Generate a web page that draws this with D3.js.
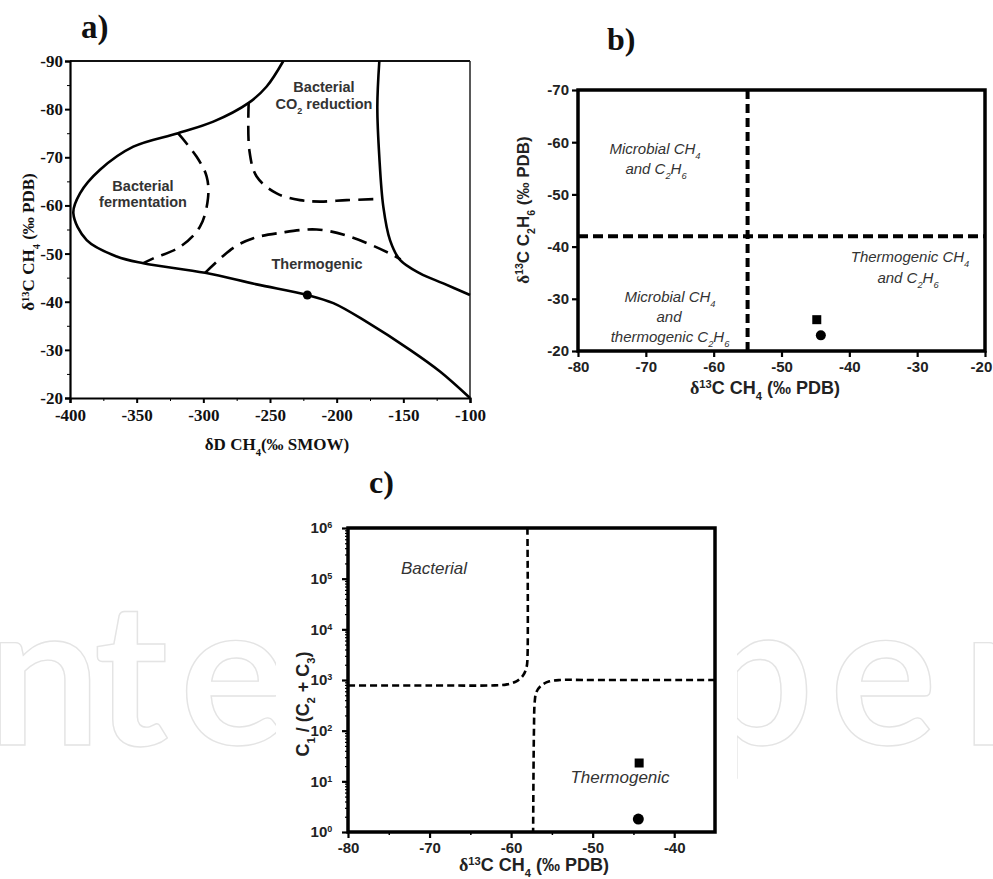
<!DOCTYPE html>
<html>
<head>
<meta charset="utf-8">
<script src="https://cdn.jsdelivr.net/npm/d3@7"></script>
<style>
  body { margin: 0; background: #fff; }
  svg { display: block; }
  .axis .domain { stroke: #000; }
  .axis line { stroke: #000; }
</style>
</head>
<body>
<div id="chart"></div>
<script>
// ---- panel a : dD vs d13C of methane --------------------------------
const aOuter = [[-240, -90], [-252.5, -84.7], [-266, -81.3], [-292.5, -77.4], [-319, -75],
  [-352.5, -72.2], [-377.5, -67.4], [-392.5, -62.5], [-397.5, -58.4], [-387.5, -52.8],
  [-365, -49.4], [-345, -48], [-298.7, -46], [-260, -43.6], [-222, -41.4], [-202.5, -39.7],
  [-177.5, -35.8], [-145, -30], [-122.5, -25.5], [-100, -20]];
const aRight = [[-168, -90], [-169.5, -80.5], [-168, -70], [-165, -59.7], [-160, -52.8],
  [-152.5, -48.7], [-137.5, -45.9], [-120, -43.8], [-100, -41.4]];
const aFerment = [[-319, -75], [-305, -70.1], [-297.5, -66], [-296.5, -61.5], [-302.5, -55.6],
  [-317.5, -51.4], [-337.5, -49], [-345, -48]];
const aCO2 = [[-266, -81.3], [-265.5, -71.5], [-260, -66], [-245, -62.5], [-227.5, -61.1],
  [-212.5, -60.8], [-192.5, -61.1], [-172.5, -61.3]];
const aThermo = [[-298.7, -46], [-277.5, -51.2], [-262.5, -53.2], [-242.5, -54.3], [-215, -55],
  [-190, -53.5], [-160, -50], [-152, -48.8]];
const aSample = [[-222, -41.4]];
const aXTicks = [-400, -350, -300, -250, -200, -150, -100];
const aYTicks = [-90, -80, -70, -60, -50, -40, -30, -20];

// ---- panel b : d13C CH4 vs d13C C2H6 --------------------------------
const bXTicks = [-80, -70, -60, -50, -40, -30, -20];
const bYTicks = [-70, -60, -50, -40, -30, -20];
const bCH4Limit = -55;
const bC2H6Limit = -42;
const bSquare = [[-44.8, -26]];
const bCircle = [[-44.2, -23]];

// ---- panel c : Bernard diagram --------------------------------------
const cXTicks = [-80, -70, -60, -50, -40];
const cYTicks = [1, 10, 100, 1e3, 1e4, 1e5, 1e6];
const cBacterial = [[-58, 1e6], [-58, 2500], [-58.1, 1800], [-58.5, 1250], [-59.3, 950],
  [-60.5, 820], [-62, 785], [-70, 780], [-80, 780]];
const cThermo = [[-35, 1000], [-50, 1000], [-54, 1000], [-55.3, 940], [-56.3, 780],
  [-56.9, 580], [-57.1, 380], [-57.2, 100], [-57.3, 1]];
const cSquare = [[-44.3, 23]];
const cCircle = [[-44.4, 1.8]];

const SERIF = '"Liberation Serif", "Times New Roman", serif';
const SANS = '"Liberation Sans", Arial, sans-serif';

const svg = d3.select('#chart').append('svg')
  .attr('width', 993)
  .attr('height', 879);

svg.append('rect').attr('width', 993).attr('height', 879).attr('fill', '#fff');

// text with sub / superscripts
function rich(t, parts) {
  parts.forEach(([s, k]) => {
    const sp = t.append('tspan').text(s);
    if (k === 'sup') sp.attr('baseline-shift', 'super').attr('font-size', '62%');
    if (k === 'sub') sp.attr('baseline-shift', 'sub').attr('font-size', '62%');
    if (k === 'serif') sp.attr('font-family', SERIF);
  });
  return t;
}

function midpoints(ticks) {
  return ticks.slice(1).map((v, i) => (v + ticks[i]) / 2);
}

// watermark behind everything
const wm = svg.append('g')
  .attr('fill', 'none')
  .attr('stroke', '#e4e4e4')
  .attr('stroke-width', 1.4)
  .attr('font-family', 'Lato, sans-serif')
  .attr('font-weight', 'bold')
  .attr('font-size', 200);
[['n', -12], ['t', 94], ['e', 180], ['p', 700], ['e', 830], ['n', 962]].forEach(([ch, x]) => {
  wm.append('text').attr('x', x).attr('y', 745).text(ch);
});

// ================= panel a =================
{
  const g = svg.append('g');
  const x = d3.scaleLinear().domain([-400, -100]).range([70, 470]);
  const y = d3.scaleLinear().domain([-90, -20]).range([61, 398]);

  const line = d3.line()
    .x(d => x(d[0]))
    .y(d => y(d[1]))
    .curve(d3.curveCatmullRom.alpha(0.5));

  // frame
  g.append('line').attr('x1', x(-400)).attr('x2', x(-100)).attr('y1', y(-90)).attr('y2', y(-90))
    .attr('stroke', '#111').attr('stroke-width', 2);
  g.append('line').attr('x1', x(-100)).attr('x2', x(-100)).attr('y1', y(-90)).attr('y2', y(-20))
    .attr('stroke', '#222').attr('stroke-width', 1.5);

  const xAxis = g.append('g').attr('class', 'axis').attr('transform', `translate(0,${y(-20)})`)
    .call(d3.axisBottom(x).tickValues(aXTicks).tickSize(5).tickPadding(3).tickFormat(d => String(d)));
  g.append('g').attr('class', 'axis').attr('transform', `translate(0,${y(-20)})`)
    .call(d3.axisBottom(x).tickValues(midpoints(aXTicks)).tickSize(3).tickFormat(''))
    .select('.domain').remove();
  const yAxis = g.append('g').attr('class', 'axis').attr('transform', `translate(${x(-400)},0)`)
    .call(d3.axisLeft(y).tickValues(aYTicks).tickSize(5).tickPadding(2).tickFormat(d => String(d)));
  g.append('g').attr('class', 'axis').attr('transform', `translate(${x(-400)},0)`)
    .call(d3.axisLeft(y).tickValues(midpoints(aYTicks)).tickSize(3).tickFormat(''))
    .select('.domain').remove();

  [xAxis, yAxis].forEach(a => {
    a.select('.domain').attr('stroke-width', 2.2);
    a.selectAll('line').attr('stroke-width', 2);
    a.selectAll('text').attr('font-family', SERIF).attr('font-weight', 'bold')
      .attr('font-size', 17).attr('fill', '#111');
  });
  xAxis.selectAll('text').attr('dy', '0.9em');

  // region boundaries
  [aOuter, aRight].forEach(c => {
    g.append('path').attr('d', line(c)).attr('fill', 'none')
      .attr('stroke', '#000').attr('stroke-width', 2.6);
  });
  [aFerment, aCO2, aThermo].forEach(c => {
    g.append('path').attr('d', line(c)).attr('fill', 'none')
      .attr('stroke', '#000').attr('stroke-width', 2.6)
      .attr('stroke-dasharray', '15,8');
  });

  g.selectAll('circle.sample').data(aSample).join('circle')
    .attr('class', 'sample')
    .attr('cx', d => x(d[0])).attr('cy', d => y(d[1])).attr('r', 4.5).attr('fill', '#000');

  const lab = g.append('g').attr('font-family', SANS).attr('font-weight', 'bold')
    .attr('font-size', 14.5).attr('fill', '#333').attr('text-anchor', 'middle');
  lab.append('text').attr('x', 324).attr('y', 92).text('Bacterial');
  rich(lab.append('text').attr('x', 324).attr('y', 109), [['CO', ''], ['2', 'sub'], [' reduction', '']]);
  lab.append('text').attr('x', 143).attr('y', 191).text('Bacterial');
  lab.append('text').attr('x', 143).attr('y', 207).text('fermentation');
  lab.append('text').attr('x', 317).attr('y', 269).text('Thermogenic');

  const tt = g.append('g').attr('font-family', SERIF).attr('font-weight', 'bold')
    .attr('font-size', 17).attr('fill', '#111').attr('text-anchor', 'middle');
  rich(tt.append('text').attr('x', 277).attr('y', 450),
    [['δD CH', ''], ['4', 'sub'], ['(‰ SMOW)', '']]);
  rich(tt.append('text').attr('transform', 'translate(34,242) rotate(-90)'),
    [['δ', ''], ['13', 'sup'], ['C CH', ''], ['4', 'sub'], [' (‰ PDB)', '']]);

  svg.append('text').attr('x', 81).attr('y', 38).attr('font-family', SERIF)
    .attr('font-weight', 'bold').attr('font-size', 33).attr('fill', '#111').text('a)');
}

// ================= panel b =================
{
  const g = svg.append('g');
  const x = d3.scaleLinear().domain([-80, -20]).range([578, 985]);
  const y = d3.scaleLinear().domain([-70, -20]).range([90, 351]);

  const xAxis = g.append('g').attr('class', 'axis').attr('transform', `translate(0,${y(-20)})`)
    .call(d3.axisBottom(x).tickValues(bXTicks).tickSize(6).tickPadding(4).tickFormat(d => String(d)));
  const yAxis = g.append('g').attr('class', 'axis').attr('transform', `translate(${x(-80)},0)`)
    .call(d3.axisLeft(y).tickValues(bYTicks).tickSize(6).tickPadding(3).tickFormat(d => String(d)));
  [xAxis, yAxis].forEach(a => {
    a.select('.domain').remove();
    a.selectAll('line').attr('stroke-width', 2.2);
    a.selectAll('text').attr('font-family', SANS).attr('font-weight', 'bold')
      .attr('font-size', 15).attr('fill', '#222');
  });
  // last label sits against the page edge, as in the original
  xAxis.selectAll('.tick text').filter(d => d === -20).attr('text-anchor', 'end').attr('dx', '0.45em');

  g.append('rect').attr('x', x(-80)).attr('y', y(-70))
    .attr('width', x(-20) - x(-80)).attr('height', y(-20) - y(-70))
    .attr('fill', 'none').attr('stroke', '#000').attr('stroke-width', 3.5);

  g.append('line').attr('x1', x(bCH4Limit)).attr('x2', x(bCH4Limit))
    .attr('y1', y(-70)).attr('y2', y(-20))
    .attr('stroke', '#000').attr('stroke-width', 4).attr('stroke-dasharray', '9,5');
  g.append('line').attr('x1', x(-80)).attr('x2', x(-20))
    .attr('y1', y(bC2H6Limit)).attr('y2', y(bC2H6Limit))
    .attr('stroke', '#000').attr('stroke-width', 4).attr('stroke-dasharray', '10,5');

  g.selectAll('rect.sq').data(bSquare).join('rect').attr('class', 'sq')
    .attr('x', d => x(d[0]) - 4.5).attr('y', d => y(d[1]) - 4.5)
    .attr('width', 9).attr('height', 9).attr('fill', '#000');
  g.selectAll('circle.ci').data(bCircle).join('circle').attr('class', 'ci')
    .attr('cx', d => x(d[0])).attr('cy', d => y(d[1])).attr('r', 5).attr('fill', '#000');

  const lab = g.append('g').attr('font-family', SANS).attr('font-style', 'italic')
    .attr('font-size', 15).attr('fill', '#333').attr('text-anchor', 'middle');
  rich(lab.append('text').attr('x', 655).attr('y', 154), [['Microbial CH', ''], ['4', 'sub']]);
  rich(lab.append('text').attr('x', 656).attr('y', 174), [['and C', ''], ['2', 'sub'], ['H', ''], ['6', 'sub']]);
  rich(lab.append('text').attr('x', 910).attr('y', 262), [['Thermogenic CH', ''], ['4', 'sub']]);
  rich(lab.append('text').attr('x', 908).attr('y', 283), [['and C', ''], ['2', 'sub'], ['H', ''], ['6', 'sub']]);
  rich(lab.append('text').attr('x', 670).attr('y', 302), [['Microbial CH', ''], ['4', 'sub']]);
  lab.append('text').attr('x', 669).attr('y', 322).text('and');
  rich(lab.append('text').attr('x', 670).attr('y', 342), [['thermogenic C', ''], ['2', 'sub'], ['H', ''], ['6', 'sub']]);

  const tt = g.append('g').attr('font-family', SANS).attr('font-weight', 'bold')
    .attr('font-size', 18).attr('fill', '#222').attr('text-anchor', 'middle');
  rich(tt.append('text').attr('x', 765).attr('y', 394),
    [['δ', 'serif'], ['13', 'sup'], ['C CH', ''], ['4', 'sub'], [' (‰ PDB)', '']]);
  rich(tt.append('text').attr('transform', 'translate(529,210) rotate(-90)').attr('font-size', 17),
    [['δ', 'serif'], ['13', 'sup'], ['C C', ''], ['2', 'sub'], ['H', ''], ['6', 'sub'], [' (‰ PDB)', '']]);

  svg.append('text').attr('x', 607).attr('y', 50).attr('font-family', SERIF)
    .attr('font-weight', 'bold').attr('font-size', 32).attr('fill', '#111').text('b)');
}

// ================= panel c =================
{
  // white backing of the inset figure
  svg.append('rect').attr('x', 276).attr('y', 455).attr('width', 461).attr('height', 424).attr('fill', '#fff');

  const g = svg.append('g');
  const x = d3.scaleLinear().domain([-80, -35]).range([348, 715]);
  const y = d3.scaleLog().domain([1, 1e6]).range([832, 528]);

  const line = d3.line()
    .x(d => x(d[0]))
    .y(d => y(d[1]))
    .curve(d3.curveCatmullRom.alpha(0.5));

  const minorY = [];
  cYTicks.slice(0, -1).forEach(t => { for (let k = 2; k <= 9; k++) minorY.push(t * k); });

  const xAxis = g.append('g').attr('class', 'axis').attr('transform', `translate(0,${y(1)})`)
    .call(d3.axisBottom(x).tickValues(cXTicks).tickSize(6).tickPadding(4).tickFormat(d => String(d)));
  g.append('g').attr('class', 'axis').attr('transform', `translate(0,${y(1)})`)
    .call(d3.axisBottom(x).tickValues(midpoints(cXTicks)).tickSize(3).tickFormat(''))
    .call(a => a.select('.domain').remove())
    .selectAll('line').attr('stroke-width', 1.5);
  const yAxis = g.append('g').attr('class', 'axis').attr('transform', `translate(${x(-80)},0)`)
    .call(d3.axisLeft(y).tickValues(cYTicks).tickSize(6).tickPadding(3).tickFormat(() => '10'));
  g.append('g').attr('class', 'axis').attr('transform', `translate(${x(-80)},0)`)
    .call(d3.axisLeft(y).tickValues(minorY).tickSize(3).tickFormat(''))
    .call(a => a.select('.domain').remove())
    .selectAll('line').attr('stroke-width', 1.2);

  [xAxis, yAxis].forEach(a => {
    a.select('.domain').remove();
    a.selectAll('line').attr('stroke-width', 2.2);
    a.selectAll('text').attr('font-family', SANS).attr('font-weight', 'bold')
      .attr('font-size', 15).attr('fill', '#222');
  });
  yAxis.selectAll('.tick text').attr('dx', '-0.45em').each(function (d) {
    d3.select(this).append('tspan').attr('baseline-shift', 'super')
      .attr('font-size', 9).text(Math.round(Math.log10(d)));
  });

  g.append('rect').attr('x', x(-80)).attr('y', y(1e6))
    .attr('width', x(-35) - x(-80)).attr('height', y(1) - y(1e6))
    .attr('fill', 'none').attr('stroke', '#000').attr('stroke-width', 3.5);

  [cBacterial, cThermo].forEach(c => {
    g.append('path').attr('d', line(c)).attr('fill', 'none')
      .attr('stroke', '#000').attr('stroke-width', 2.6).attr('stroke-dasharray', '7,4');
  });

  g.selectAll('rect.sq').data(cSquare).join('rect').attr('class', 'sq')
    .attr('x', d => x(d[0]) - 4.5).attr('y', d => y(d[1]) - 4.5)
    .attr('width', 9).attr('height', 9).attr('fill', '#000');
  g.selectAll('circle.ci').data(cCircle).join('circle').attr('class', 'ci')
    .attr('cx', d => x(d[0])).attr('cy', d => y(d[1])).attr('r', 5.5).attr('fill', '#000');

  const lab = g.append('g').attr('font-family', SANS).attr('font-style', 'italic')
    .attr('font-size', 17).attr('fill', '#333').attr('text-anchor', 'middle');
  lab.append('text').attr('x', 434).attr('y', 574).text('Bacterial');
  lab.append('text').attr('x', 620).attr('y', 783).text('Thermogenic');

  const tt = g.append('g').attr('font-family', SANS).attr('font-weight', 'bold')
    .attr('font-size', 18).attr('fill', '#222').attr('text-anchor', 'middle');
  rich(tt.append('text').attr('x', 534).attr('y', 871),
    [['δ', 'serif'], ['13', 'sup'], ['C CH', ''], ['4', 'sub'], [' (‰ PDB)', '']]);
  rich(tt.append('text').attr('transform', 'translate(309,704) rotate(-90)'),
    [['C', ''], ['1', 'sub'], [' / (C', ''], ['2', 'sub'], [' + C', ''], ['3', 'sub'], [')', '']]);

  svg.append('text').attr('x', 369).attr('y', 493).attr('font-family', SERIF)
    .attr('font-weight', 'bold').attr('font-size', 32).attr('fill', '#111').text('c)');
}
</script>
</body>
</html>
